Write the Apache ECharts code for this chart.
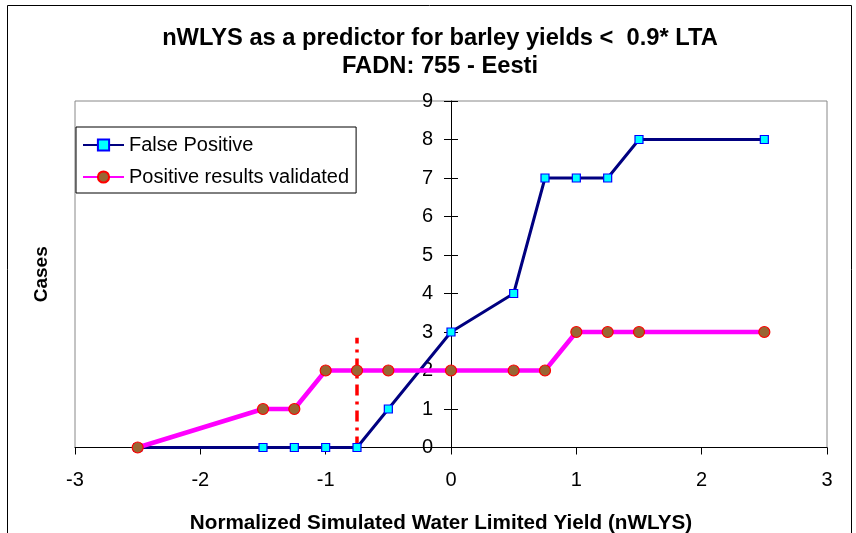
<!DOCTYPE html>
<html>
<head>
<meta charset="utf-8">
<script src="https://cdn.jsdelivr.net/npm/echarts@6/dist/echarts.min.js"></script>
<style>
  html, body { margin: 0; padding: 0; background: #fff; }
  #chart { width: 856px; height: 533px; }
</style>
</head>
<body>
<div id="chart"></div>
<script>
// nWLYS values (x) and cases (y)
const falsePositiveX = [-2.5, -1.5, -1.25, -1.0, -0.75, -0.5, 0, 0.5, 0.75, 1.0, 1.25, 1.5, 2.5];
const falsePositiveY = [0, 0, 0, 0, 0, 1, 3, 4, 7, 7, 7, 8, 8];
const validatedX = [-2.5, -1.5, -1.25, -1.0, -0.75, -0.5, 0, 0.5, 0.75, 1.0, 1.25, 1.5, 2.5];
const validatedY = [0, 1, 1, 2, 2, 2, 2, 2, 2, 3, 3, 3, 3];
const thresholdX = [-0.75, -0.75];
const thresholdY = [0, 2.85];
const xTicks = [-3, -2, -1, 0, 1, 2, 3];
const yTicks = [0, 1, 2, 3, 4, 5, 6, 7, 8, 9];

const fontFamily = "'Liberation Sans', Arial, sans-serif";

function pairs(xs, ys) {
  return xs.map((x, i) => [x, ys[i]]);
}

const gridLeft = 75;
const gridRight = 29;
const plotWidth = 856 - gridLeft - gridRight;
// shift the y axis so it sits on x = 0
const zeroOffset = -plotWidth * (0 - xTicks[0]) / (xTicks[xTicks.length - 1] - xTicks[0]);

const chart = echarts.init(document.getElementById("chart"));

const yBase = {
  type: "value",
  position: "left",
  min: yTicks[0],
  max: yTicks[yTicks.length - 1],
  interval: 1,
  splitLine: { show: false },
};

chart.setOption({
  animation: false,
  textStyle: { fontFamily: fontFamily },
  title: {
    text: "nWLYS as a predictor for barley yields <  0.9* LTA\nFADN: 755 - Eesti",
    left: 435,
    textAlign: "center",
    top: 19,
    textStyle: {
      fontFamily: fontFamily,
      fontSize: 23.7,
      fontWeight: "bold",
      color: "#000",
      lineHeight: 28,
    },
  },
  graphic: [
    {
      type: "rect",
      shape: { x: 7.5, y: 5.5, width: 844, height: 540 },
      style: { fill: "none", stroke: "#000", lineWidth: 1 },
      silent: true,
    },
  ],
  grid: {
    left: gridLeft,
    right: gridRight,
    top: 101,
    bottom: 85.5,
    containLabel: false,
    outerBoundsMode: "none",
    show: true,
    borderColor: "#888",
    borderWidth: 1,
  },
  legend: {
    left: 76,
    top: 127,
    orient: "vertical",
    backgroundColor: "#fff",
    borderColor: "#000",
    borderWidth: 1,
    borderRadius: 0,
    padding: [8, 7, 6, 6],
    itemGap: 12,
    itemWidth: 41,
    itemHeight: 14,
    textStyle: { fontFamily: fontFamily, fontSize: 20, lineHeight: 20, color: "#000" },
    data: ["False Positive", "Positive results validated"],
  },
  xAxis: {
    type: "value",
    min: xTicks[0],
    max: xTicks[xTicks.length - 1],
    interval: 1,
    name: "Normalized Simulated Water Limited Yield (nWLYS)",
    nameLocation: "middle",
    nameGap: 65,
    nameTextStyle: {
      fontFamily: fontFamily,
      fontSize: 20.7,
      fontWeight: "bold",
      color: "#000",
      padding: [0, 20, 0, 0],
    },
    axisLine: { onZero: false, lineStyle: { color: "#000", width: 1 } },
    axisTick: { show: true, length: 7, lineStyle: { color: "#000" } },
    axisLabel: { fontFamily: fontFamily, fontSize: 20, color: "#000", margin: 23 },
    splitLine: { show: false },
  },
  yAxis: [
    Object.assign({}, yBase, {
      offset: zeroOffset,
      axisLine: { show: true, onZero: false, lineStyle: { color: "#000", width: 1 } },
      axisTick: { show: true, length: 7, lineStyle: { color: "#000" } },
      axisLabel: { fontFamily: fontFamily, fontSize: 20, color: "#000", margin: 18 },
    }),
    Object.assign({}, yBase, {
      name: "Cases",
      nameLocation: "middle",
      nameGap: 24,
      nameTextStyle: { fontFamily: fontFamily, fontSize: 19, fontWeight: "bold", color: "#000" },
      axisLine: { show: false, onZero: false },
      axisTick: { show: false },
      axisLabel: { show: false },
    }),
    Object.assign({}, yBase, {
      offset: zeroOffset,
      axisLine: { show: false, onZero: false },
      axisTick: { show: true, inside: true, length: 7, lineStyle: { color: "#000" } },
      axisLabel: { show: false },
    }),
  ],
  series: [
    {
      name: "Threshold",
      type: "line",
      data: pairs(thresholdX, thresholdY),
      symbol: "none",
      lineStyle: { color: "#ff0000", width: 3.5, type: [11, 6, 3, 6] },
      z: 1,
    },
    {
      name: "False Positive",
      type: "line",
      data: pairs(falsePositiveX, falsePositiveY),
      symbol: "rect",
      symbolSize: 8,
      lineStyle: { color: "#000080", width: 3 },
      itemStyle: { color: "#00ffff", borderColor: "#0000ff", borderWidth: 1.2 },
      z: 2,
    },
    {
      name: "Positive results validated",
      type: "line",
      data: pairs(validatedX, validatedY),
      symbol: "circle",
      symbolSize: 11,
      lineStyle: { color: "#ff00ff", width: 4.5 },
      itemStyle: { color: "#996633", borderColor: "#ff0000", borderWidth: 1.2 },
      z: 3,
    },
  ],
});
</script>
</body>
</html>
